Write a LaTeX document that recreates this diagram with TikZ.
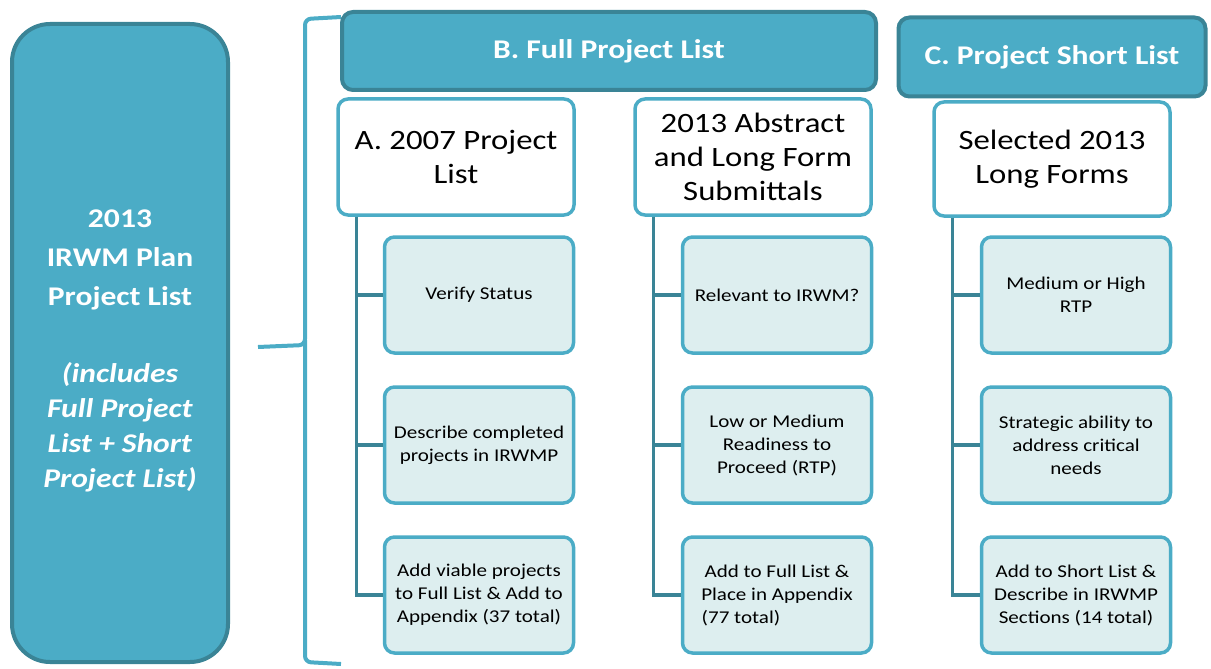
\documentclass[tikz,border=0pt]{standalone}
\usepackage{fontspec}
\setmainfont[FakeStretch=1.17]{Carlito}
\definecolor{irwmblue}{HTML}{4BACC6}
\definecolor{irwmdark}{HTML}{3A8496}
\definecolor{irwmpale}{HTML}{DDEEEF}

\begin{document}
\begin{tikzpicture}[x=1pt, y=-1pt,
  leftbox/.style={draw=irwmdark, line width=4pt, fill=irwmblue, rounded corners=38pt,
    text=white, align=center, minimum width=216pt, minimum height=638pt,
    font=\bfseries\fontsize{27}{39}\selectfont},
  bluebox/.style={draw=irwmdark, line width=4pt, fill=irwmblue, rounded corners=11pt,
    text=white, font=\bfseries\fontsize{27}{32}\selectfont},
  headbox/.style={draw=irwmblue, line width=3.5pt, fill=white, rounded corners=10pt,
    align=center, font=\fontsize{28}{34}\selectfont, minimum width=236pt, minimum height=116pt},
  stepbox/.style={draw=irwmblue, line width=3.5pt, fill=irwmpale, rounded corners=10pt,
    align=center, font=\fontsize{18}{23}\selectfont, minimum width=189pt, minimum height=116pt,
    inner sep=2pt},
  conn/.style={draw=irwmdark, line width=3.5pt}]

  \useasboundingbox (0,0) rectangle (1211,669);

  % ====== left: whole plan list ======
  \draw[irwmdark, line width=4pt, fill=irwmblue, rounded corners=38pt] (12,24) rectangle (228,662);
  \node[leftbox, draw=none, fill=none] (plan) at (120,351) {2013\\IRWM Plan\\Project List\\[38pt]
    \textit{(includes}\\[-4pt]\textit{Full Project}\\[-4pt]\textit{List + Short}\\[-4pt]\textit{Project List)}};

  % ====== brace ======
  \draw[irwmblue, line width=4pt, rounded corners=6pt]
    (341,17) -- (305,19) -- (305,345) -- (258,347);
  \draw[irwmblue, line width=4pt, rounded corners=6pt]
    (305,340) -- (305,662) -- (341,664);

  % ====== B: full project list ======
  \node[bluebox, minimum width=534pt, minimum height=78pt] (full) at (609,51) {B. Full Project List};

  % ====== C: short list ======
  \node[bluebox, minimum width=307pt, minimum height=79pt] (short) at (1052,57) {C. Project Short List};

  % ====== sub headers ======
  \node[headbox] (hA) at (456,157) {A. 2007 Project\\List};
  \node[headbox] (hB) at (753,157) {2013 Abstract\\and Long Form\\Submittals};
  \node[headbox, minimum height=114pt] (hC) at (1052,159) {Selected 2013\\Long Forms};

  % ====== column A ======
  \node[stepbox] (a1) at (479,295) {Verify Status};
  \node[stepbox] (a2) at (479,445) {Describe completed\\projects in IRWMP};
  \node[stepbox] (a3) at (479,595) {Add viable projects\\to Full List \& Add to\\Appendix (37 total)};

  % ====== column B ======
  \node[stepbox] (b1) at (777,295) {Relevant to IRWM?};
  \node[stepbox] (b2) at (777,445) {Low or Medium\\Readiness to\\Proceed (RTP)};
  \node[stepbox] (b3) at (777,595) {Add to Full List \&\\Place in Appendix\\(77 total)\hspace*{72pt}};

  % ====== column C ======
  \node[stepbox] (c1) at (1076,295) {Medium or High\\RTP};
  \node[stepbox] (c2) at (1076,445) {Strategic ability to\\address critical\\needs};
  \node[stepbox] (c3) at (1076,595) {Add to Short List \&\\Describe in IRWMP\\Sections (14 total)};

  % ====== connectors ======
  \foreach \h/\s in {hA/a, hB/b, hC/c}
    \foreach \i in {1,2,3}
      \draw[conn] ([xshift=20pt]\h.south west) |- (\s\i.west);

\end{tikzpicture}
\end{document}
